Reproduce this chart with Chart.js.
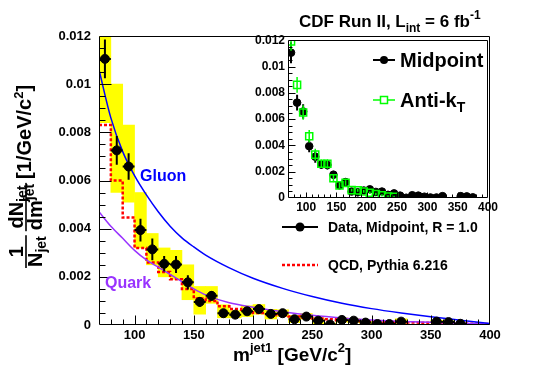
<!DOCTYPE html>
<html><head><meta charset="utf-8">
<script src="https://cdn.jsdelivr.net/npm/chart.js@4.4.1/dist/chart.umd.min.js"></script>
<style>
html,body{margin:0;padding:0;background:#fff;}
#wrap{position:relative;width:545px;height:369px;overflow:hidden;}
#main{position:absolute;left:0;top:0;}
#inset{position:absolute;left:240px;top:30px;}
</style></head><body>
<div id="wrap"><canvas id="main" width="545" height="369"></canvas><canvas id="inset" width="260" height="190"></canvas></div>
<script>
// ---------------- data ----------------
const binCenters = [75,85,95,105,115,125,135,145,155,165,175,185,195,205,215,225,235,245,255,265,275,285,295,305,315,325,335,345,355,365,375,385,395];
const midpoint   = [0.01105,0.00725,0.00658,0.00394,0.00314,0.00254,0.00251,0.00177,0.00096,0.00121,0.00049,0.00043,0.00057,0.00066,0.00046,0.00049,0.00024,0.00035,0.00018,0.00002,0.00021,0.00018,0.00010,0.00004,0.00004,0.00014,null,null,0.00014,0.00012,0.00005,null,null];
const statErr    = [0.0008,0.0006,0.00055,0.00047,0.00045,0.00032,0.00035,0.0003,0.0002,0.0002,0.0001,0.0001,0.0001,0.0001,0.0001,0.00008,0.00008,0.00008,0.00008,0.00008,0.00008,0.00008,0.00008,0.00008,0.00008,0.00008,null,null,0.00008,0.00008,0.00008,null,null];
const sysLow     = [0.0084,0.0055,0.0051,0.0032,0.0025,0.0020,0.0019,0.00105,0.00045,0.0009,0.0003,0.0003,0.00035,0.00045,0.00025,0.00035,0.0001,0.00025,0.00003,0,0.00012,0.0001,0.00005,0,0,0.00005,null,null,0.00008,0.00006,0.00001,null,null];
const sysHigh    = [0.0135,0.0100,0.0083,0.0055,0.0038,0.0032,0.0031,0.0025,0.0016,0.0016,0.00084,0.0006,0.0008,0.00085,0.00065,0.00063,0.0004,0.00048,0.0003,0.00008,0.0003,0.00026,0.00016,0.0001,0.0001,0.00026,null,null,0.0002,0.00018,0.0001,null,null];
const qcdPythia  = [0.0083,0.0060,0.00446,0.0032,0.0026,0.0022,0.0019,0.0015,0.0011,0.0010,0.00078,0.00066,0.00058,0.0005,0.00045,0.0004,0.00035,0.0003,0.00027,0.00024,0.0002,0.00018,0.00016,0.00014,0.00012,0.00011,0.0001,0.00009,0.00008,0.00007,0.00006,0.00005,0.00004];
const antiKt     = [0.0119,0.0086,0.0065,0.0047,0.0033,0.0026,0.0026,0.0015,0.00096,0.00115,0.0006,0.00058,0.0005,0.0004,0.0003,0.0002,0.00012,0.0001];
const antiKtErr  = [0.0007,0.0006,0.00055,0.00047,0.00045,0.00032,0.00035,0.0003,0.0002,0.0002,0.0001,0.0001,0.0001,0.0001,0.0001,0.00008,0.00008,0.00008];
const curveMass  = [70,80,90,100,110,120,130,140,150,160,180,200,225,250,275,300,325,350,375,400];
const gluonCurve = [0.0106,0.0086,0.0072,0.0062,0.0054,0.0047,0.0041,0.00362,0.00324,0.0029,0.00237,0.00194,0.00152,0.00118,0.0009,0.00068,0.0005,0.00034,0.0002,0.00006];
const quarkCurve = [0.0047,0.0041,0.0036,0.0031,0.0027,0.0024,0.0021,0.0018,0.0015,0.00125,0.00092,0.00074,0.00055,0.00040,0.00029,0.00021,0.00015,0.00011,0.00007,0.00004];
const xTickValues = [100,150,200,250,300,350,400];
const xTickLabels = ['100','150','200','250','300','350','400'];
const yTickValues = [0,0.002,0.004,0.006,0.008,0.01,0.012];
const yTickLabels = ['0','0.002','0.004','0.006','0.008','0.01','0.012'];
const binHalfWidth = 5;

// ---------------- helpers ----------------
const FONT = '"Liberation Sans", Arial, Helvetica, sans-serif';
function setFont(ctx, s){ ctx.font = 'bold ' + s + 'px ' + FONT; }
function runsWidth(ctx, parts){ let w=0; for (const p of parts){ setFont(ctx,p[1]); w+=ctx.measureText(p[0]).width; } return w; }
function drawRuns(ctx, x, y, parts){ let cx=x; for (const p of parts){ setFont(ctx,p[1]); ctx.fillText(p[0],cx,y+(p[2]||0)); cx+=ctx.measureText(p[0]).width; } return cx; }
function drawFrac(ctx, u0, num, den){
  const wn=runsWidth(ctx,num), wd=runsWidth(ctx,den), w=Math.max(wn,wd)+2;
  drawRuns(ctx, u0+(w-wn)/2, -3, num);
  drawRuns(ctx, u0+(w-wd)/2, 16, den);
  ctx.fillRect(u0, -0.8, w, 1.6);
  return u0+w;
}
function ticksPlugin(id, cfg){
  return { id, afterDatasetsDraw(chart){
    const {ctx, chartArea:a, scales:{x,y}} = chart;
    ctx.save(); ctx.strokeStyle='#000'; ctx.lineWidth=1;
    const L=Math.round(a.left)+0.5, R=Math.round(a.right)-0.5, T=Math.round(a.top)+0.5, B=Math.round(a.bottom)-0.5;
    ctx.beginPath(); ctx.moveTo(L,T); ctx.lineTo(R,T); ctx.lineTo(R,B); ctx.lineTo(L,B); ctx.closePath(); ctx.stroke();
    ctx.beginPath();
    for (let k=Math.ceil(x.min/cfg.xMinor-1e-9); k*cfg.xMinor<=x.max+1e-9; k++){
      const v=k*cfg.xMinor, maj=Math.abs(v/cfg.xMajor-Math.round(v/cfg.xMajor))<1e-6;
      const px=Math.round(x.getPixelForValue(v))+0.5; if (px<=L+1||px>=R-1) continue;
      ctx.moveTo(px,B); ctx.lineTo(px,B-(maj?cfg.xMaj:cfg.xMin));
    }
    for (let k=Math.ceil(y.min/cfg.yMinor-1e-9); k*cfg.yMinor<=y.max+1e-9; k++){
      const v=k*cfg.yMinor, maj=Math.abs(v/cfg.yMajor-Math.round(v/cfg.yMajor))<1e-6;
      const py=Math.round(y.getPixelForValue(v))+0.5; if (py<=T+1||py>=B-1) continue;
      ctx.moveTo(L,py); ctx.lineTo(L+(maj?cfg.yMaj:cfg.yMin),py);
    }
    ctx.stroke(); ctx.restore();
  }};
}

// ---------------- build datasets ----------------
const sysData=[], ptData=[], errData=[], qcdData=[];
binCenters.forEach((c,i)=>{
  if (sysLow[i]!=null) sysData.push({x:c, y:[sysLow[i], sysHigh[i]]});
  if (midpoint[i]!=null){
    const v=midpoint[i], e=statErr[i];
    ptData.push({x:c, y:v});
    errData.push({x:c,y:v-e},{x:c,y:v+e},{x:c,y:null},{x:c-binHalfWidth,y:v},{x:c+binHalfWidth,y:v},{x:c,y:null});
  }
  qcdData.push({x:c-binHalfWidth, y:qcdPythia[i]});
});
qcdData.push({x:binCenters[binCenters.length-1]+binHalfWidth, y:qcdPythia[qcdPythia.length-1]});
const gluonData = curveMass.map((m,i)=>({x:m,y:gluonCurve[i]}));
const quarkData = curveMass.map((m,i)=>({x:m,y:quarkCurve[i]}));
const akData=[], akErr=[], mpErr=[];
antiKt.forEach((v,i)=>{ const c=binCenters[i]; akData.push({x:c,y:v}); akErr.push({x:c,y:v-antiKtErr[i]},{x:c,y:v+antiKtErr[i]},{x:c,y:null}); });
binCenters.forEach((c,i)=>{ if (midpoint[i]!=null){ mpErr.push({x:c,y:midpoint[i]-statErr[i]},{x:c,y:midpoint[i]+statErr[i]},{x:c,y:null}); }});

const tickFont = (s)=>({family:FONT, size:s, weight:'bold'});

// ---------------- main chart ----------------
const mainText = { id:'mainText', afterDraw(chart){
  const ctx=chart.ctx; ctx.save(); ctx.textBaseline='alphabetic';
  // title
  ctx.fillStyle='#000';
  drawRuns(ctx, 299, 27, [['CDF Run II, L',17,0],['int',12,5],[' = 6 fb',17,0],['-1',12,-8]]);
  // x title
  drawRuns(ctx, 233, 361, [['m',19,0],['jet1',13,-9],[' [GeV/c',19,0],['2',13,-9],[']',19,0]]);
  // y title
  ctx.save(); ctx.translate(26,268); ctx.rotate(-Math.PI/2);
  let u = drawFrac(ctx, 0, [['1',20,0]], [['N',20,0],['jet',14,4]]);
  u += 4;
  u = drawFrac(ctx, u, [['dN',20,0],['jet',14,4]], [['dm',20,0],['jet',14,-8]]);
  u += 4;
  drawRuns(ctx, u, 5, [['[1/GeV/c',20,0],['2',13,-8],[']',20,0]]);
  ctx.restore();
  // curve labels
  ctx.fillStyle='#0000ff'; drawRuns(ctx, 140, 181, [['Gluon',16,0]]);
  ctx.fillStyle='#9933ff'; drawRuns(ctx, 105, 288, [['Quark',16,0]]);
  // legend
  ctx.strokeStyle='#000'; ctx.lineWidth=2;
  ctx.beginPath(); ctx.moveTo(282,227); ctx.lineTo(318,227); ctx.stroke();
  ctx.fillStyle='#000'; ctx.beginPath(); ctx.arc(300,227,4.5,0,Math.PI*2); ctx.fill();
  drawRuns(ctx, 328, 232, [['Data, Midpoint, R = 1.0',14,0]]);
  ctx.strokeStyle='#ff0000'; ctx.lineWidth=2.5; ctx.setLineDash([3,2]);
  ctx.beginPath(); ctx.moveTo(282,265); ctx.lineTo(318,265); ctx.stroke(); ctx.setLineDash([]);
  drawRuns(ctx, 328, 270, [['QCD, Pythia 6.216',14,0]]);
  ctx.restore();
}};

new Chart(document.getElementById('main'), {
  type:'scatter',
  data:{datasets:[
    {type:'bar', data:sysData, backgroundColor:'#ffff00', borderWidth:0, barPercentage:1, categoryPercentage:1, order:6},
    {type:'line', data:qcdData, borderColor:'#ff0000', borderWidth:2.5, borderDash:[3,2], stepped:true, pointRadius:0, fill:false, order:5},
    {type:'line', data:gluonData, borderColor:'#0000ff', borderWidth:1.5, pointRadius:0, fill:false, cubicInterpolationMode:'monotone', order:4},
    {type:'line', data:quarkData, borderColor:'#9933ff', borderWidth:1.5, pointRadius:0, fill:false, cubicInterpolationMode:'monotone', order:4},
    {type:'line', data:errData, borderColor:'#000', borderWidth:2, pointRadius:0, fill:false, spanGaps:false, order:3},
    {type:'scatter', data:ptData, pointRadius:4.5, pointBackgroundColor:'#000', pointBorderColor:'#000', order:2}
  ]},
  options:{
    responsive:false, animation:false, devicePixelRatio:1, events:[],
    layout:{padding:{top:36,right:55,left:0,bottom:0}},
    plugins:{legend:{display:false}, tooltip:{enabled:false}, title:{display:false}},
    scales:{
      x:{type:'linear', min:70, max:400, offset:false, grid:{display:false, drawTicks:false, offset:false}, border:{display:false},
         ticks:{padding:3, color:'#000', font:tickFont(13), maxRotation:0, autoSkip:false, includeBounds:false, callback:(v,i)=>xTickLabels[i]},
         afterBuildTicks:s=>{ s.ticks = xTickValues.map(v=>({value:v})); }, afterFit:s=>{ s.height=44; }},
      y:{type:'linear', min:0, max:0.012, grid:{display:false, drawTicks:false}, border:{display:false},
         ticks:{padding:8, color:'#000', font:tickFont(13), autoSkip:false, includeBounds:false, callback:(v,i)=>yTickLabels[i]},
         afterBuildTicks:s=>{ s.ticks = yTickValues.map(v=>({value:v})); }, afterFit:s=>{ s.width=99; }}
    }
  },
  plugins:[ticksPlugin('mainTicks',{xMajor:50,xMinor:10,xMaj:9,xMin:5,yMajor:0.002,yMinor:0.0005,yMaj:12,yMin:6}), mainText]
});

// ---------------- inset chart ----------------
const insetText = { id:'insetText', afterDraw(chart){
  const ctx=chart.ctx; ctx.save(); ctx.textBaseline='alphabetic';
  ctx.strokeStyle='#000'; ctx.lineWidth=2;
  ctx.beginPath(); ctx.moveTo(133,30); ctx.lineTo(155,30); ctx.stroke();
  ctx.fillStyle='#000'; ctx.beginPath(); ctx.arc(144,30,4,0,Math.PI*2); ctx.fill();
  drawRuns(ctx, 160, 37, [['Midpoint',20,0]]);
  ctx.strokeStyle='#00ff00'; ctx.lineWidth=1.5;
  ctx.beginPath(); ctx.moveTo(133,70); ctx.lineTo(140,70); ctx.moveTo(148,70); ctx.lineTo(155,70); ctx.stroke();
  ctx.strokeRect(140.5,66.5,7,7);
  ctx.fillStyle='#000';
  drawRuns(ctx, 160, 77, [['Anti-k',20,0],['T',14,5]]);
  ctx.restore();
}};

new Chart(document.getElementById('inset'), {
  type:'scatter',
  data:{datasets:[
    {type:'line', data:mpErr, borderColor:'#000', borderWidth:2, pointRadius:0, fill:false, spanGaps:false, order:4},
    {type:'scatter', data:ptData, pointRadius:3.8, pointBackgroundColor:'#000', pointBorderColor:'#000', order:3},
    {type:'line', data:akErr, borderColor:'#00ff00', borderWidth:1.5, pointRadius:0, fill:false, spanGaps:false, order:2},
    {type:'scatter', data:akData, pointStyle:'rect', pointRadius:5, pointBackgroundColor:'rgba(0,0,0,0)', pointBorderColor:'#00ff00', pointBorderWidth:1.5, order:1}
  ]},
  options:{
    responsive:false, animation:false, devicePixelRatio:1, events:[],
    layout:{padding:{top:6,right:10,left:0,bottom:0}},
    plugins:{legend:{display:false}, tooltip:{enabled:false}},
    scales:{
      x:{type:'linear', min:70, max:400, offset:false, grid:{display:false, drawTicks:false}, border:{display:false},
         ticks:{padding:2, color:'#000', font:tickFont(12), maxRotation:0, autoSkip:false, includeBounds:false, callback:(v,i)=>xTickLabels[i]},
         afterBuildTicks:s=>{ s.ticks = xTickValues.map(v=>({value:v})); }, afterFit:s=>{ s.height=22; }},
      y:{type:'linear', min:0, max:0.012, grid:{display:false, drawTicks:false}, border:{display:false},
         ticks:{padding:3, color:'#000', font:tickFont(12), autoSkip:false, includeBounds:false, callback:(v,i)=>yTickLabels[i]},
         afterBuildTicks:s=>{ s.ticks = yTickValues.map(v=>({value:v})); }, afterFit:s=>{ s.width=48; }}
    }
  },
  plugins:[ticksPlugin('insetTicks',{xMajor:50,xMinor:10,xMaj:5,xMin:3,yMajor:0.002,yMinor:0.0005,yMaj:7,yMin:4}), insetText]
});
</script>
</body></html>
